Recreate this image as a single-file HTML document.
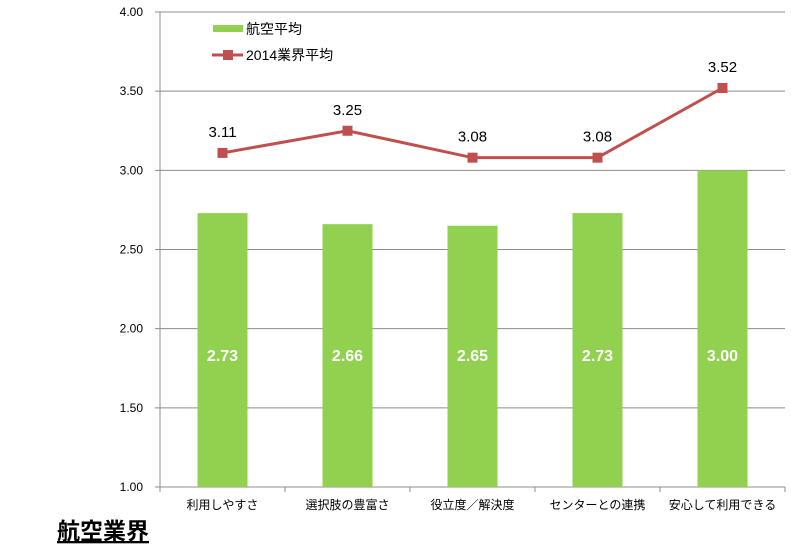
<!DOCTYPE html>
<html><head><meta charset="utf-8"><style>
body{margin:0;background:#fff;}
svg{display:block;font-family:"Liberation Sans","Noto Sans CJK JP",sans-serif;}
</style></head><body>
<svg id="chart" width="791" height="550" xmlns="http://www.w3.org/2000/svg">
<g id="grid"></g>
<g id="axes"></g>
<g id="bars"></g>
<g id="line"></g>
<g>
<rect x="213" y="25" width="30" height="7" fill="#92d050"/>
<text x="246" y="34" font-size="14" fill="#000">航空平均</text>
<line x1="212" y1="55" x2="243" y2="55" stroke="#c0504d" stroke-width="3"/>
<rect x="223" y="50" width="10" height="10" fill="#c0504d"/>
<text x="246" y="60" font-size="14" fill="#000">2014業界平均</text>
</g>
<text x="57" y="539" font-size="23" font-weight="bold" fill="#000" text-decoration="underline">航空業界</text>
</svg>
<script>
const categories=["利用しやすさ","選択肢の豊富さ","役立度／解決度","センターとの連携","安心して利用できる"];
const barValues=[2.73,2.66,2.65,2.73,3.00];
const lineValues=[3.11,3.25,3.08,3.08,3.52];
const yTicks=[1.00,1.50,2.00,2.50,3.00,3.50,4.00];
const NS="http://www.w3.org/2000/svg";
const x0=160,band=125,yMin=1,yMax=4,yTop=12,yBot=487;
const y=v=>yBot-(v-yMin)/(yMax-yMin)*(yBot-yTop);
const cx=i=>x0+band*(i+0.5);
function mk(tag,attrs,parent){const e=document.createElementNS(NS,tag);for(const k in attrs)e.setAttribute(k,attrs[k]);parent.appendChild(e);return e;}
const grid=document.getElementById('grid'),axes=document.getElementById('axes'),bars=document.getElementById('bars'),line=document.getElementById('line');
yTicks.forEach(t=>{
  const l=mk('line',{x1:155,x2:785,y1:y(t),y2:y(t),stroke:'#8c8c8c','stroke-width':1},grid);
  
  
  const tx=mk('text',{x:143,y:y(t)+4,'font-size':12,'text-anchor':'end',fill:'#000'},axes);
  tx.textContent=t.toFixed(2);
  
  
});
const ya=mk('line',{x1:160,x2:160,y1:yTop,y2:yBot,stroke:'#8c8c8c'},axes);


for(let i=0;i<=categories.length;i++){
  const tk=mk('line',{x1:x0+band*i,x2:x0+band*i,y1:yBot,y2:yBot+5,stroke:'#8c8c8c'},axes);
  
  
}
categories.forEach((c,i)=>{
  const t=mk('text',{x:cx(i),y:509,'font-size':12,'text-anchor':'middle',fill:'#000'},axes);
  t.textContent=c;
  
  
  const r=mk('rect',{x:cx(i)-25,y:y(barValues[i]),width:50,height:yBot-y(barValues[i]),fill:'#92d050'},bars);
  
  
  const bl=mk('text',{x:cx(i),y:361,'font-size':16,'font-weight':'bold','text-anchor':'middle',fill:'#fff'},bars);
  bl.textContent=barValues[i].toFixed(2);
  
  
});
const pts=lineValues.map((v,i)=>cx(i)+','+y(v)).join(' ');
const pl=mk('polyline',{points:pts,fill:'none',stroke:'#c0504d','stroke-width':3},line);


lineValues.forEach((v,i)=>{
  const m=mk('rect',{x:cx(i)-5,y:y(v)-5,width:10,height:10,fill:'#c0504d'},line);
  
  
  const t=mk('text',{x:cx(i),y:y(v)-16,'font-size':15,'text-anchor':'middle',fill:'#000'},line);
  t.textContent=v.toFixed(2);
  
  
});
</script>
</body></html>
